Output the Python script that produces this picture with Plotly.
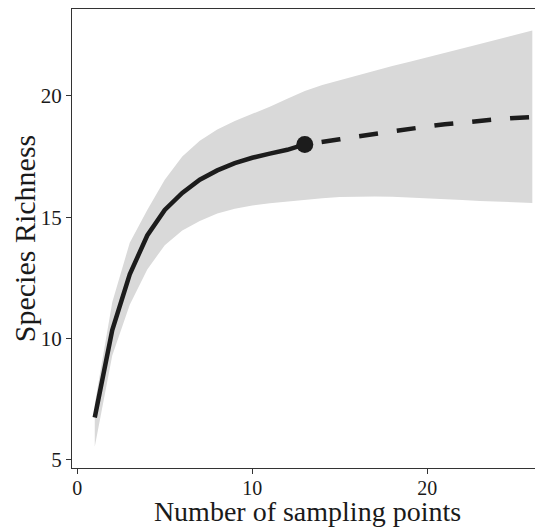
import plotly.graph_objects as go

# Rarefaction (interpolated) part
interp_x = [1, 2, 3, 4, 5, 6, 7, 8, 9, 10, 11, 12, 13]
interp_y = [6.75, 10.35, 12.65, 14.25, 15.3, 16.0, 16.55, 16.93, 17.23, 17.45, 17.62, 17.78, 18.0]

# Extrapolated part
extrap_x = [13, 14, 15, 16, 17, 18, 19, 20, 21, 22, 23, 24, 25, 26]
extrap_y = [18.0, 18.09, 18.21, 18.33, 18.44, 18.54, 18.64, 18.74, 18.83, 18.91, 18.98, 19.04, 19.09, 19.13]

# Confidence band
band_x = list(range(1, 27))
band_lower = [5.55, 9.3, 11.4, 12.85, 13.85, 14.45, 14.85, 15.15, 15.35, 15.48, 15.58, 15.66, 15.72,
              15.78, 15.83, 15.85, 15.86, 15.85, 15.82, 15.79, 15.75, 15.71, 15.67, 15.64, 15.61, 15.59]
band_upper = [7.3, 11.5, 13.95, 15.3, 16.55, 17.5, 18.15, 18.62, 18.97, 19.25, 19.55, 19.88, 20.2,
              20.45, 20.65, 20.85, 21.05, 21.23, 21.41, 21.6, 21.78, 21.96, 22.14, 22.32, 22.5, 22.69]

obs_x = [13]
obs_y = [18.0]

x_ticks = [0, 10, 20]
y_ticks = [5, 10, 15, 20]

fig = go.Figure()
fig.add_trace(go.Scatter(
    x=band_x + band_x[::-1], y=band_upper + band_lower[::-1],
    fill="toself", fillcolor="rgb(217,217,217)", line=dict(width=0),
    mode="lines", hoverinfo="skip", showlegend=False))
fig.add_trace(go.Scatter(
    x=extrap_x, y=extrap_y, mode="lines",
    line=dict(color="#1c1c1c", width=4.5, dash="0px,17px,19px,2px"),
    showlegend=False))
fig.add_trace(go.Scatter(
    x=interp_x, y=interp_y, mode="lines",
    line=dict(color="#1c1c1c", width=4.5),
    showlegend=False))
fig.add_trace(go.Scatter(
    x=obs_x, y=obs_y, mode="markers",
    marker=dict(color="#1c1c1c", size=17),
    showlegend=False))

font = "Liberation Serif"
fig.update_layout(
    width=535, height=519,
    margin=dict(l=64, r=0, t=1, b=59),
    paper_bgcolor="white", plot_bgcolor="white",
    font=dict(family=font, color="#1a1a1a"),
    xaxis=dict(
        range=[-0.30, 26.61], tickvals=x_ticks, ticks="outside", ticklen=5,
        tickcolor="#333333", showline=True, linecolor="#333333", linewidth=1,
        mirror=True, showgrid=False, zeroline=False, ticklabelstandoff=-3,
        tickfont=dict(family=font, size=20, color="#1a1a1a"),
        title=dict(text="Number of sampling points", standoff=5,
                   font=dict(family=font, size=28, color="#1a1a1a"))),
    yaxis=dict(
        range=[4.67, 23.58], tickvals=y_ticks, ticks="outside", ticklen=5,
        tickcolor="#333333", showline=True, linecolor="#333333", linewidth=1,
        mirror=False, showgrid=False, zeroline=False,
        tickfont=dict(family=font, size=21, color="#1a1a1a"),
        title=dict(text="Species Richness", standoff=4,
                   font=dict(family=font, size=30, color="#1a1a1a"))),
)

fig.write_html("out.html")
